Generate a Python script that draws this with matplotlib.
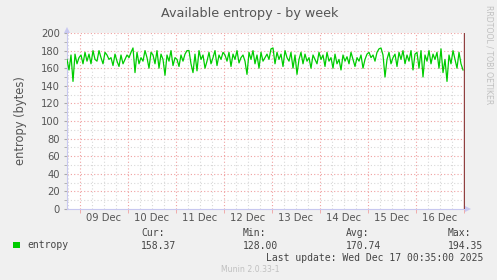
import matplotlib.pyplot as plt
import numpy as np

# hourly samples, first one at Dec 08 17:30, hours counted from Dec 09 00:00
start_hour = -6.5
entropy = [
    170, 158, 175, 145, 176, 165, 172,
    # 09 Dec
    175, 165, 178, 168, 176, 165, 180, 170, 168, 180, 172, 165,
    178, 175, 170, 172, 163, 176, 168, 162, 175, 165, 170, 175,
    # 10 Dec
    172, 178, 183, 155, 178, 165, 172, 168, 180, 172, 160, 178,
    175, 165, 180, 160, 176, 170, 152, 175, 168, 180, 163, 172,
    # 11 Dec
    170, 162, 175, 168, 176, 180, 180, 165, 155, 176, 157, 180,
    170, 175, 160, 168, 178, 165, 172, 180, 163, 175, 170, 178,
    # 12 Dec
    175, 168, 178, 162, 176, 170, 180, 166, 172, 175, 168, 153,
    178, 170, 180, 165, 175, 160, 178, 168, 172, 176, 170, 182,
    # 13 Dec
    183, 165, 178, 170, 176, 162, 180, 172, 168, 178, 160, 175,
    153, 170, 178, 165, 176, 168, 172, 160, 175, 170, 165, 178,
    # 14 Dec
    170, 175, 162, 178, 168, 172, 160, 176, 165, 170, 158, 175,
    168, 173, 165, 178, 170, 162, 172, 168, 175, 160, 170, 176,
    # 15 Dec
    178, 172, 175, 168, 178, 182, 183, 175, 150, 170, 178, 165,
    172, 176, 162, 178, 170, 180, 165, 175, 168, 180, 158, 176,
    # 16 Dec
    178, 160, 180, 150, 175, 168, 180, 165, 176, 170, 178, 160,
    182, 155, 170, 145, 175, 165, 180, 170, 160, 178, 165, 158,
]
day_labels = ["09 Dec", "10 Dec", "11 Dec", "12 Dec",
              "13 Dec", "14 Dec", "15 Dec", "16 Dec"]
legend_stats = {"Cur:": "158.37", "Min:": "128.00",
                "Avg:": "170.74", "Max:": "194.35"}

hours = start_hour + np.arange(len(entropy))

fig = plt.figure(figsize=(4.97, 2.80), dpi=100, facecolor="#f0f0f0")
ax = fig.add_axes([67 / 497, 1 - 209 / 280, 398 / 497, 176 / 280])
ax.set_facecolor("white")

ax.set_xlim(-6.5, 192.5)
ax.set_ylim(0, 200)

# grid: red major, grey minor, both dotted
for h in np.arange(-6, 193, 6):
    major = h % 24 == 0
    ax.axvline(h, color="#f0a0a0" if major else "#d8d8d8",
               linestyle=(0, (1, 2)), linewidth=0.8, zorder=1)
for v in range(10, 201, 10):
    major = v % 20 == 0
    ax.axhline(v, color="#f0a0a0" if major else "#d8d8d8",
               linestyle=(0, (1, 2)), linewidth=0.8, zorder=1)

ax.plot(hours, entropy, color="#00cc00", linewidth=0.9, zorder=3)

# right hand "now" rule
ax.axvline(192.2, color="#904040", linewidth=1.0, zorder=4)

for side in ["top", "right"]:
    ax.spines[side].set_visible(False)
for side in ["left", "bottom"]:
    ax.spines[side].set_color("#c8c8f0")
    ax.spines[side].set_linewidth(0.8)

ax.set_yticks(range(0, 201, 20))
ax.set_yticks(range(10, 200, 20), minor=True)
ax.set_xticks(np.arange(12, 192, 24))
ax.set_xticklabels(day_labels)
ax.set_xticks(np.arange(0, 193, 24), minor=True)
ax.tick_params(axis="x", which="major", length=0, pad=3,
               labelsize=7.2, labelcolor="#555555")
ax.tick_params(axis="x", which="minor", length=3, color="#f0a0a0",
               direction="out")
ax.tick_params(axis="y", which="both", length=2, color="#aaaaaa",
               pad=3, labelsize=7.2, labelcolor="#555555")

# axis arrows
ax.plot([194.0], [0], marker=">", markersize=5, color="#c8c8f0",
        markeredgewidth=0, clip_on=False, zorder=5)
ax.plot([-6.5], [203.5], marker="^", markersize=5, color="#c8c8f0",
        markeredgewidth=0, clip_on=False, zorder=5)

ax.set_ylabel("entropy (bytes)", fontsize=8.3, color="#555555", labelpad=10)

fig.text(250 / 497, 1 - 13 / 280, "Available entropy - by week",
         ha="center", va="center", fontsize=9.2, color="#555555")
fig.text(489 / 497, 1 - 5 / 280, "RRDTOOL / TOBI OETIKER", rotation=270,
         ha="center", va="top", fontsize=5.6, color="#c0c0c0")

# legend block
mono = "DejaVu Sans Mono"
fig.patches.append(plt.Rectangle((13 / 497, 1 - 248 / 280), 7 / 497, 6 / 280,
                                 transform=fig.transFigure,
                                 facecolor="#00cc00", edgecolor="none"))
fig.text(27 / 497, 1 - 245 / 280, "entropy", family=mono, fontsize=7,
         color="#444444", va="center")
stat_x = [141, 243, 346, 448]
for x, (name, val) in zip(stat_x, legend_stats.items()):
    fig.text(x / 497, 1 - 233 / 280, name, family=mono, fontsize=7,
             color="#444444", va="center")
    fig.text(x / 497, 1 - 246 / 280, val, family=mono, fontsize=7,
             color="#444444", va="center")
fig.text(483 / 497, 1 - 258 / 280, "Last update: Wed Dec 17 00:35:00 2025",
         family=mono, fontsize=7, color="#444444", ha="right", va="center")
fig.text(250 / 497, 1 - 270 / 280, "Munin 2.0.33-1", fontsize=5.6,
         color="#c0c0c0", ha="center", va="center")

fig.savefig("out.png", dpi=100, facecolor=fig.get_facecolor())
